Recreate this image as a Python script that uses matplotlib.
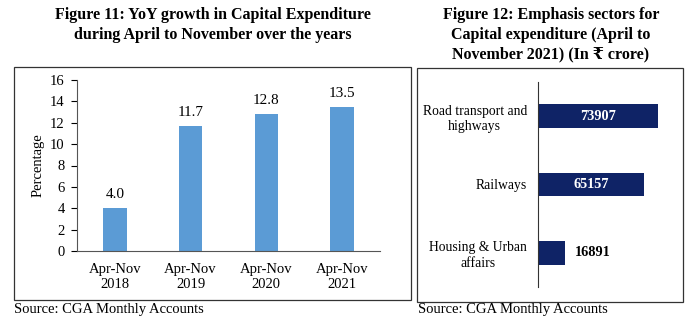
import matplotlib.pyplot as plt
from matplotlib.patches import Rectangle

# Data
years = ["Apr-Nov\n2018", "Apr-Nov\n2019", "Apr-Nov\n2020", "Apr-Nov\n2021"]
growth = [4.0, 11.7, 12.8, 13.5]

sectors = ["Road transport and\nhighways", "Railways", "Housing & Urban\naffairs"]
spend = [73907, 65157, 16891]

plt.rcParams['font.family'] = ['Liberation Serif', 'DejaVu Serif', 'DejaVu Sans']

W, H = 690, 321
fig = plt.figure(figsize=(6.9, 3.21), dpi=100)


def ax_rect(x0, y0, x1, y1):
    # pixel box (top-left origin) -> figure fraction
    return [x0 / W, 1 - y1 / H, (x1 - x0) / W, (y1 - y0) / H]


# frames around each panel
for x0, y0, x1, y1 in [(14, 67, 411, 300), (417, 68, 683, 302)]:
    fig.patches.append(Rectangle((x0 / W, 1 - y1 / H), (x1 - x0) / W, (y1 - y0) / H,
                                 transform=fig.transFigure, fill=False,
                                 edgecolor='#333333', linewidth=0.9))

# ---- Figure 11 ----
ax1 = fig.add_axes(ax_rect(77, 80, 380, 251))
x = range(len(years))
bars = ax1.bar(x, growth, width=0.31, color='#5B9BD5')
ax1.set_xlim(-0.5, 3.5)
ax1.set_ylim(0, 16)
ax1.set_yticks(range(0, 17, 2))
ax1.set_xticks(list(x))
ax1.set_xticklabels(years, fontsize=10.5, linespacing=1.1)
ax1.tick_params(axis='y', labelsize=10.5, length=4, width=0.8, pad=5)
ax1.tick_params(axis='x', length=0, pad=9)
for s in ['top', 'right']:
    ax1.spines[s].set_visible(False)
ax1.spines['left'].set_color('#555555')
ax1.spines['bottom'].set_color('#555555')
ax1.set_ylabel("Percentage", fontsize=10.5, labelpad=4)
for b, v in zip(bars, growth):
    ax1.annotate(f"{v:.1f}", (b.get_x() + b.get_width() / 2, v),
                 xytext=(0, 5), textcoords='offset points',
                 ha='center', va='bottom', fontsize=11)

fig.text(213 / W, 1 - 25 / H,
         "Figure 11: YoY growth in Capital Expenditure\nduring April to November over the years",
         ha='center', va='center', fontsize=11.5, fontweight='bold', linespacing=1.3)

# ---- Figure 12 ----
ax2 = fig.add_axes(ax_rect(538, 82, 670, 287))
y = range(len(sectors))
hb = ax2.barh(y, spend, height=0.35, color='#0F2366')
ax2.set_ylim(2.5, -0.5)
ax2.set_xlim(0, 81300)
ax2.set_yticks(list(y))
ax2.set_yticklabels(sectors, fontsize=9.8, linespacing=1.25, multialignment='center')
ax2.tick_params(axis='y', length=0, pad=8)
ax2.set_xticks([])
for s in ['top', 'right', 'bottom']:
    ax2.spines[s].set_visible(False)
ax2.spines['left'].set_color('#333333')
for b, v in zip(hb, spend):
    cy = b.get_y() + b.get_height() / 2
    if v > 30000:
        ax2.text(v / 2, cy, f"{v}", ha='center', va='center',
                 color='white', fontsize=10.3, fontweight='bold')
    else:
        ax2.text(v + 6000, cy, f"{v}", ha='left', va='center',
                 color='black', fontsize=10.3, fontweight='bold')

fig.text(551 / W, 1 - 35 / H,
         "Figure 12: Emphasis sectors for\nCapital expenditure (April to\nNovember 2021) (In \u20b9 crore)",
         ha='center', va='center', fontsize=11.5, fontweight='bold', linespacing=1.3)

# sources
fig.text(14 / W, 1 - 310 / H, "Source: CGA Monthly Accounts", ha='left', va='center', fontsize=10.5)
fig.text(418 / W, 1 - 310 / H, "Source: CGA Monthly Accounts", ha='left', va='center', fontsize=10.5)

fig.savefig("out.png", dpi=100)
